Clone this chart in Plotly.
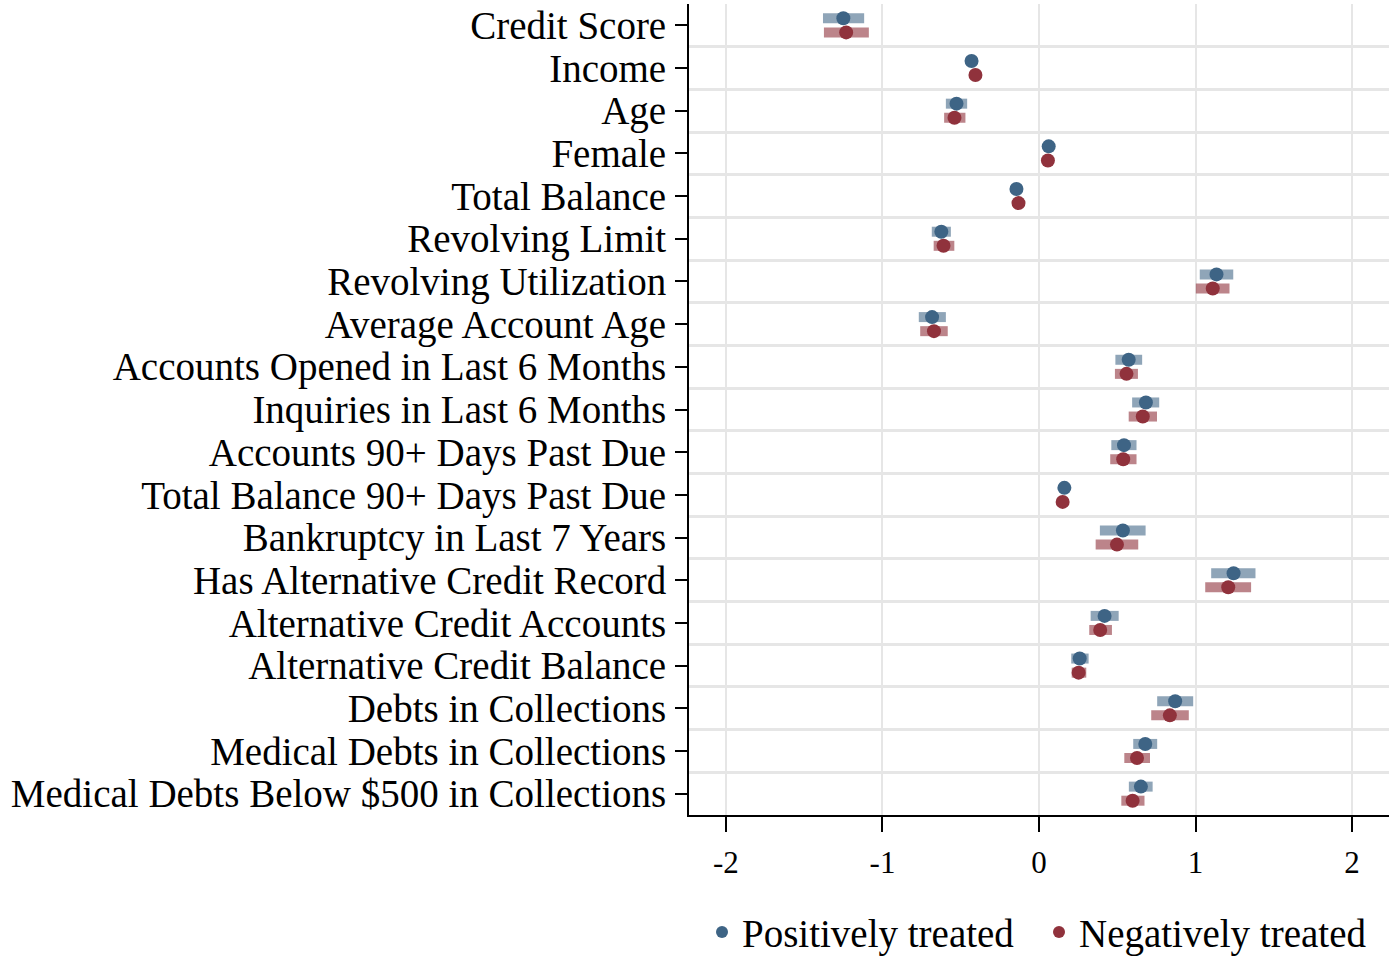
import plotly.graph_objects as go

categories = [
    "Credit Score", "Income", "Age", "Female", "Total Balance", "Revolving Limit",
    "Revolving Utilization", "Average Account Age", "Accounts Opened in Last 6 Months",
    "Inquiries in Last 6 Months", "Accounts 90+ Days Past Due", "Total Balance 90+ Days Past Due",
    "Bankruptcy in Last 7 Years", "Has Alternative Credit Record", "Alternative Credit Accounts",
    "Alternative Credit Balance", "Debts in Collections", "Medical Debts in Collections",
    "Medical Debts Below $500 in Collections",
]

pos_est = [-1.250, -0.431, -0.527, 0.062, -0.144, -0.624, 1.134, -0.683, 0.573, 0.683,
           0.543, 0.162, 0.536, 1.243, 0.419, 0.260, 0.870, 0.679, 0.651]
pos_lo = [-1.380, -0.445, -0.595, 0.052, -0.154, -0.685, 1.027, -0.768, 0.488, 0.595,
          0.462, 0.152, 0.389, 1.100, 0.330, 0.206, 0.755, 0.602, 0.574]
pos_hi = [-1.117, -0.417, -0.459, 0.072, -0.134, -0.563, 1.241, -0.595, 0.659, 0.768,
          0.623, 0.172, 0.681, 1.383, 0.509, 0.317, 0.985, 0.755, 0.726]

neg_est = [-1.232, -0.406, -0.540, 0.057, -0.131, -0.610, 1.110, -0.671, 0.559, 0.663,
           0.538, 0.151, 0.498, 1.209, 0.391, 0.253, 0.836, 0.626, 0.598]
neg_lo = [-1.374, -0.420, -0.606, 0.047, -0.141, -0.673, 1.002, -0.759, 0.485, 0.573,
          0.455, 0.141, 0.362, 1.062, 0.321, 0.209, 0.717, 0.545, 0.526]
neg_hi = [-1.087, -0.392, -0.470, 0.067, -0.121, -0.541, 1.217, -0.583, 0.632, 0.754,
          0.623, 0.161, 0.634, 1.355, 0.466, 0.302, 0.957, 0.709, 0.674]

x_ticks = [-2, -1, 0, 1, 2]
series_names = ["Positively treated", "Negatively treated"]

BLUE = "#3E6485"
RED = "#90323C"
BLUE_CI = "rgba(62,100,133,0.58)"
RED_CI = "rgba(144,50,60,0.60)"
OFFSET = 0.165

n = len(categories)
idx = list(range(n))


def ci_xy(lo, hi, shift):
    xs, ys = [], []
    for i, (a, b) in enumerate(zip(lo, hi)):
        xs += [a, b, None]
        ys += [i + shift, i + shift, None]
    return xs, ys


fig = go.Figure()

for lo, hi, shift, ci_col in [
    (pos_lo, pos_hi, -OFFSET, BLUE_CI),
    (neg_lo, neg_hi, OFFSET, RED_CI),
]:
    xs, ys = ci_xy(lo, hi, shift)
    fig.add_trace(go.Scatter(x=xs, y=ys, mode="lines",
                             line=dict(color=ci_col, width=10),
                             showlegend=False, hoverinfo="skip"))
for est, shift, col in [(pos_est, -OFFSET, BLUE), (neg_est, OFFSET, RED)]:
    fig.add_trace(go.Scatter(x=est, y=[i + shift for i in idx], mode="markers",
                             marker=dict(color=col, size=14, line=dict(width=0)),
                             showlegend=False))

for name, col in zip(series_names, [BLUE, RED]):
    fig.add_trace(go.Scatter(x=[None], y=[None], mode="markers", name=name,
                             marker=dict(color=col, size=12)))

# invisible trace on second y axis for row-separating gridlines
fig.add_trace(go.Scatter(x=[None], y=[None], yaxis="y2", showlegend=False))

fig.update_layout(
    width=1400, height=959,
    margin=dict(l=689, r=11, t=4, b=144, autoexpand=False),
    plot_bgcolor="white", paper_bgcolor="white",
    xaxis=dict(range=[-2.236, 2.236], tickvals=x_ticks, ticktext=[str(t) for t in x_ticks],
               showgrid=True, gridcolor="#e6e6e6", gridwidth=2, zeroline=False,
               showline=True, linecolor="black", linewidth=2,
               ticks="outside", ticklen=15, tickwidth=2, tickcolor="black",
               ticklabelstandoff=4,
               tickfont=dict(family="Liberation Serif", size=31, color="black")),
    yaxis=dict(range=[n - 0.5, -0.5], tickvals=idx, ticktext=categories,
               showgrid=False, zeroline=False,
               showline=True, linecolor="black", linewidth=2,
               ticks="outside", ticklen=12, tickwidth=2, tickcolor="black",
               ticklabelstandoff=1,
               tickfont=dict(family="Liberation Serif", size=39, color="black")),
    yaxis2=dict(range=[n - 0.5, -0.5], overlaying="y", tickvals=[i + 0.5 for i in idx[:-1]],
                showticklabels=False, showgrid=True, gridcolor="#e6e6e6", gridwidth=3,
                zeroline=False, showline=False, ticks="", layer="below traces"),
    legend=dict(orientation="h", x=0.500, xanchor="center",
                yref="container", y=0.028, yanchor="middle",
                font=dict(family="Liberation Serif", size=39, color="black"),
                itemwidth=30, entrywidth=292),
    showlegend=True,
)

fig.write_html("out.html", post_script="document.body.style.margin='0px';",
               config={"displayModeBar": False})
